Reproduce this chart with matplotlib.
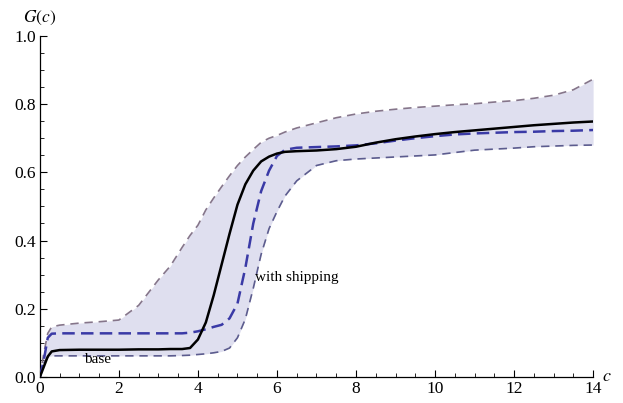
import matplotlib

matplotlib.use("Agg")
import matplotlib.pyplot as plt
from matplotlib.ticker import MultipleLocator, FormatStrFormatter

############### DATA ###############
c = [0, 0.1, 0.2, 0.3, 0.5, 1, 1.5, 2, 2.5, 2.8, 3.0, 3.3, 3.6, 3.8, 4.0,
     4.2, 4.4, 4.6, 4.8, 5.0, 5.2, 5.4, 5.6, 5.8, 6.0, 6.2, 6.5, 7, 7.5, 8,
     8.5, 9, 9.5, 10, 10.5, 11, 11.5, 12, 12.5, 13, 13.5, 14]

upper = [0, 0.07, 0.128, 0.147, 0.152, 0.158, 0.162, 0.167, 0.21, 0.255,
         0.285, 0.325, 0.38, 0.415, 0.445, 0.49, 0.525, 0.558, 0.59, 0.62,
         0.645, 0.667, 0.688, 0.70, 0.708, 0.718, 0.73, 0.745, 0.76, 0.771,
         0.779, 0.785, 0.79, 0.794, 0.798, 0.801, 0.806, 0.81, 0.817, 0.826,
         0.842, 0.873]

base = [0, 0.03, 0.06, 0.075, 0.079, 0.08, 0.08, 0.08, 0.081, 0.081, 0.081,
        0.082, 0.082, 0.085, 0.11, 0.16, 0.24, 0.33, 0.42, 0.505, 0.565,
        0.605, 0.632, 0.646, 0.655, 0.66, 0.662, 0.664, 0.668, 0.675, 0.687,
        0.697, 0.705, 0.712, 0.718, 0.723, 0.728, 0.733, 0.738, 0.742,
        0.746, 0.749]

shipping = [0, 0.05, 0.115, 0.127, 0.128, 0.128, 0.128, 0.128, 0.128, 0.128,
            0.128, 0.128, 0.128, 0.13, 0.134, 0.14, 0.147, 0.153, 0.172,
            0.215, 0.32, 0.45, 0.545, 0.605, 0.648, 0.666, 0.672, 0.674,
            0.676, 0.679, 0.685, 0.693, 0.700, 0.706, 0.711, 0.714, 0.716,
            0.718, 0.719, 0.721, 0.722, 0.724]

lower = [0, 0.04, 0.058, 0.062, 0.062, 0.062, 0.062, 0.062, 0.062, 0.062,
         0.062, 0.062, 0.063, 0.064, 0.066, 0.068, 0.071, 0.075, 0.085, 0.115,
         0.17, 0.26, 0.36, 0.435, 0.485, 0.53, 0.575, 0.62, 0.634, 0.639,
         0.642, 0.645, 0.648, 0.651, 0.658, 0.665, 0.668, 0.671, 0.675,
         0.677, 0.679, 0.68]

############### PLOT ###############
plt.rcParams["font.family"] = "serif"
plt.rcParams["font.serif"] = ["Liberation Serif", "DejaVu Serif"]
plt.rcParams["mathtext.fontset"] = "stix"

fig = plt.figure(figsize=(6.23, 4.03), dpi=100)
ax = fig.add_axes([0.064, 0.0645, 0.888, 0.8465])

ax.fill_between(c, lower, upper, color="#dfdfef", linewidth=0, zorder=1)
ax.plot(c, upper, color="#85758a", linewidth=1.2, dashes=(5, 3.5), zorder=2)
ax.plot(c, lower, color="#5c5c8e", linewidth=1.2, dashes=(5, 3.5), zorder=2)
ax.plot(c, shipping, color="#3a3aa6", linewidth=1.8, dashes=(5, 2.5), zorder=3)
ax.plot(c, base, color="black", linewidth=1.8, zorder=4)

ax.text(1.47, 0.05, "base", fontsize=11, ha="center", va="center")
ax.text(6.5, 0.293, "with shipping", fontsize=11, ha="center", va="center")

ax.set_xlim(0, 14)
ax.set_ylim(0, 1.0)
ax.xaxis.set_major_locator(MultipleLocator(2))
ax.xaxis.set_minor_locator(MultipleLocator(0.5))
ax.yaxis.set_major_locator(MultipleLocator(0.2))
ax.yaxis.set_minor_locator(MultipleLocator(0.05))
ax.xaxis.set_major_formatter(FormatStrFormatter("%d"))
ax.yaxis.set_major_formatter(FormatStrFormatter("%.1f"))

for side in ["top", "right"]:
    ax.spines[side].set_visible(False)
ax.spines["left"].set_linewidth(0.9)
ax.spines["bottom"].set_linewidth(0.9)
ax.tick_params(which="major", direction="in", length=5, width=0.8,
               labelsize=12.5, pad=3)
ax.tick_params(which="minor", direction="in", length=3, width=0.6)

fig.text(0.064, 0.955, "$G(c)$", fontsize=12.5, ha="center", va="center")
fig.text(0.974, 0.066, "$c$", fontsize=13, ha="center", va="center")

fig.savefig("out.png", dpi=100, facecolor="white")
